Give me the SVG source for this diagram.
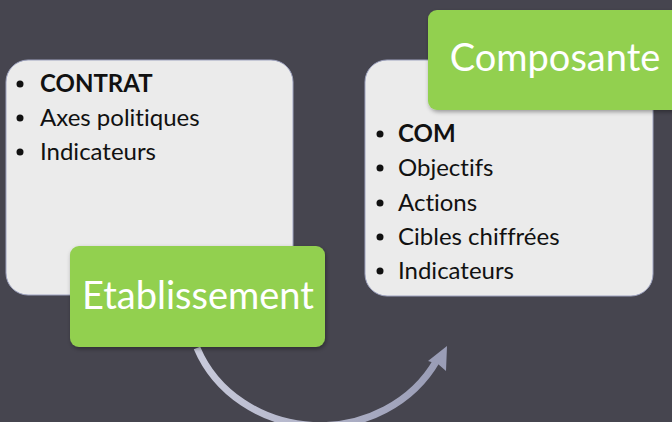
<svg xmlns="http://www.w3.org/2000/svg" width="672" height="422" viewBox="0 0 672 422">
<style>
.card{fill:#ebebeb;stroke:#9ea3c0;stroke-width:1}
.tag{fill:#92d050}
.big{font-family:Lato,"Liberation Sans",sans-serif;font-size:38px;fill:#ffffff;font-variant-ligatures:none}
.item{font-family:Lato,"Liberation Sans",sans-serif;font-size:24px;fill:#111111;font-variant-ligatures:none}
.b{font-weight:bold}
</style>
<defs>
<filter id="sh" x="-10%" y="-10%" width="120%" height="130%">
<feDropShadow dx="1" dy="2" stdDeviation="2" flood-color="#000" flood-opacity="0.35"/>
</filter>
<linearGradient id="ag" x1="0" y1="0" x2="1" y2="0">
<stop offset="0" stop-color="#c8cadb"/>
<stop offset="1" stop-color="#9a9db6"/>
</linearGradient>
</defs>
<rect width="672" height="422" fill="#46454f"/>
<g id="connectors">
<path d="M197 348 A132 122 0 0 0 437 360" fill="none" stroke="url(#ag)" stroke-width="7"/>
<polygon points="447,346 446,371 438,364 428,361" fill="#9a9db6"/>
</g>
<g id="contrat">
<rect class="card" x="6" y="60" width="287" height="235" rx="22"/>
<circle cx="20" cy="84" r="3.5" fill="#111"/>
<circle cx="20" cy="118" r="3.5" fill="#111"/>
<circle cx="20" cy="152" r="3.5" fill="#111"/>
<text class="item b" x="40" y="92">CONTRAT</text>
<text class="item" x="40" y="126">Axes politiques</text>
<text class="item" x="40" y="160">Indicateurs</text>
</g>
<g id="etablissement">
<rect class="tag" x="70" y="246" width="255" height="101" rx="9" filter="url(#sh)"/>
<text class="big" x="198" y="309" text-anchor="middle">Etablissement</text>
</g>
<g id="com">
<rect class="card" x="365" y="60" width="288" height="236" rx="22"/>
<circle cx="380" cy="134" r="3.5" fill="#111"/>
<circle cx="380" cy="168" r="3.5" fill="#111"/>
<circle cx="380" cy="203" r="3.5" fill="#111"/>
<circle cx="380" cy="237" r="3.5" fill="#111"/>
<circle cx="380" cy="271" r="3.5" fill="#111"/>
<text class="item b" x="398" y="142">COM</text>
<text class="item" x="398" y="176">Objectifs</text>
<text class="item" x="398" y="211">Actions</text>
<text class="item" x="398" y="245">Cibles chiffrées</text>
<text class="item" x="398" y="279">Indicateurs</text>
</g>
<g id="composante">
<rect class="tag" x="428" y="10" width="260" height="100" rx="9" filter="url(#sh)"/>
<text class="big" x="555" y="71" text-anchor="middle">Composante</text>
</g>
</svg>
